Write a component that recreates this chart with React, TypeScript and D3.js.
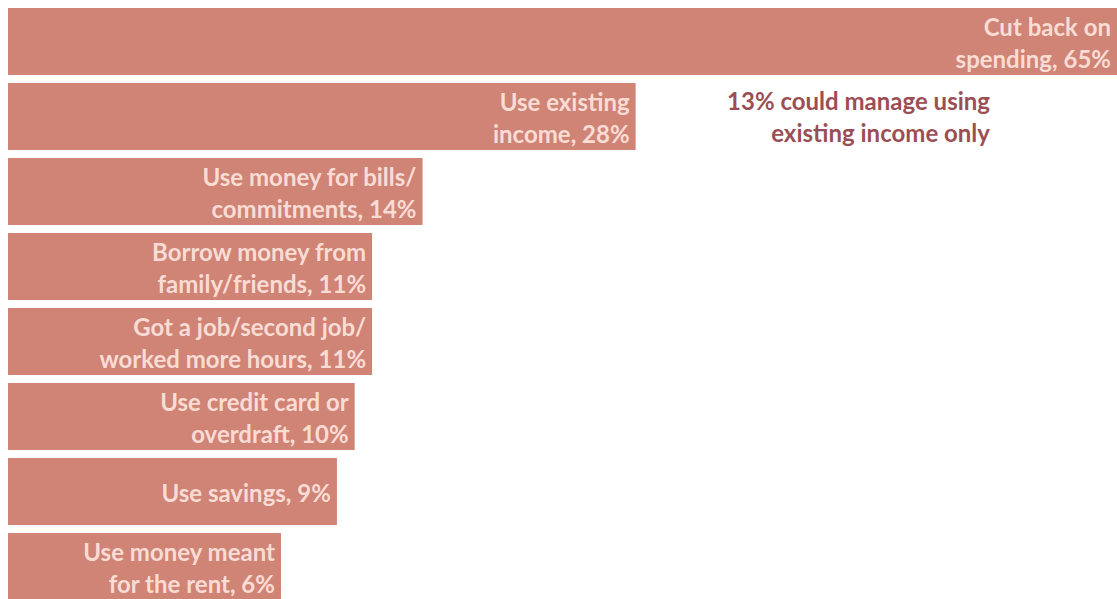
import React, { useEffect, useRef } from "react";
import * as d3 from "d3";

const categories = [
  "Cut back on\nspending",
  "Use existing\nincome",
  "Use money for bills/\ncommitments",
  "Borrow money from\nfamily/friends",
  "Got a job/second job/\nworked more hours",
  "Use credit card or\noverdraft",
  "Use savings",
  "Use money meant\nfor the rent",
];
const values = [65, 28, 14, 11, 11, 10, 9, 6];
const noteLines = ["13% could manage using", "existing income only"];

const App: React.FC = () => {
  const ref = useRef<SVGSVGElement | null>(null);

  useEffect(() => {
    document.body.style.margin = "0";
    document.body.style.overflow = "hidden";
    if (!ref.current) return;
    const svg = d3.select(ref.current);
    svg.selectAll("*").remove();

    const margin = 8;
    const innerW = 1109;
    const fontSize = 24;
    const lineH = 32;

    const rows = categories.map((c, i) => ({ label: c, value: values[i] }));

    const y = d3
      .scaleBand<number>()
      .domain(d3.range(rows.length))
      .range([0, 592])
      .paddingInner(0.107)
      .paddingOuter(0);

    // infographic-style bars: a small stub plus a softened (pow) length
    const x = d3.scalePow().exponent(0.8).domain([0, 65]).range([127, innerW]);

    const root = svg.append("g").attr("transform", `translate(${margin}, ${margin})`);

    const g = root
      .selectAll("g.row")
      .data(rows)
      .enter()
      .append("g")
      .attr("class", "row")
      .attr("transform", (d, i) => `translate(0, ${y(i)})`);

    g.append("rect")
      .attr("width", (d) => x(d.value))
      .attr("height", y.bandwidth())
      .attr("fill", "#CF8476");

    g.each(function (d) {
      const lines = `${d.label}, ${d.value}%`.split("\n");
      const cy = y.bandwidth() / 2 + 1.5;
      const t = d3
        .select(this)
        .append("text")
        .attr("text-anchor", "end")
        .attr("fill", "#FADCD5")
        .style("font-family", "Lato, 'Open Sans', sans-serif")
        .style("font-weight", "bold")
        .style("font-size", `${fontSize}px`);
      lines.forEach((ln, k) => {
        t.append("tspan")
          .attr("x", x(d.value) - 6)
          .attr("y", cy + (k - (lines.length - 1) / 2) * lineH)
          .attr("dy", "0.38em")
          .text(ln);
      });
    });

    const note = root
      .append("text")
      .attr("text-anchor", "end")
      .attr("fill", "#9B4F55")
      .style("font-family", "Lato, 'Open Sans', sans-serif")
      .style("font-weight", "bold")
      .style("font-size", `${fontSize}px`);
    const noteCy = (y(1) ?? 0) + y.bandwidth() / 2;
    noteLines.forEach((ln, k) => {
      note
        .append("tspan")
        .attr("x", 982)
        .attr("y", noteCy + (k - 0.5) * lineH)
        .attr("dy", "0.38em")
        .text(ln);
    });
  }, []);

  return <svg ref={ref} width={1117} height={599} style={{ display: "block" }} />;
};

export default App;
